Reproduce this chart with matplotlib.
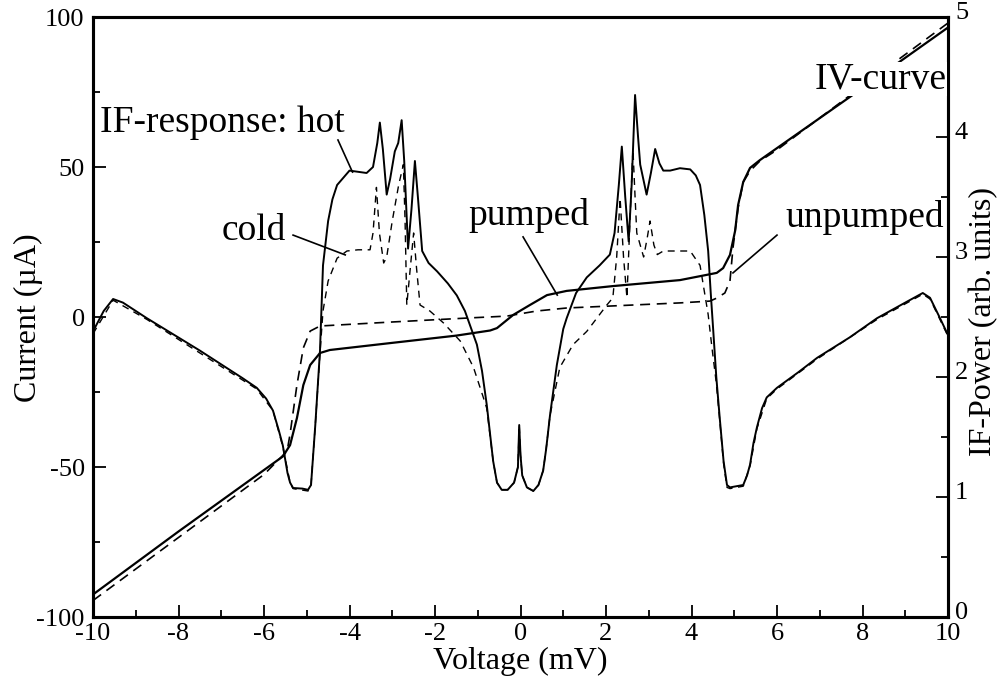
import matplotlib
matplotlib.use('Agg')
import matplotlib.pyplot as plt
import matplotlib.transforms as mtransforms
from matplotlib.ticker import MultipleLocator

# IV curves (left axis, current in uA)
v_pumped = [-10, -8, -6, -5.56, -5.39, -5.23, -5.08, -4.92, -4.69, -4.46, -3.05, -1.5, -0.71,
            -0.55, -0.17, 0.22, 0.62, 1.08, 2.16, 3.73, 4.59, 4.74, 4.9, 5.02, 5.09, 5.21,
            5.37, 5.6, 6.0, 8.0, 10]
i_pumped = [-92.5, -71.5, -51, -46.5, -42.7, -33.7, -22.7, -16, -12, -11, -8.7, -6.2, -4.5,
            -3.7, 0.7, 4, 7.3, 8.7, 10.3, 12.3, 14.7, 16.3, 20.7, 28.7, 37.3, 45,
            49.7, 52.3, 56.3, 76.3, 96.5]

v_unpumped = [-10, -8, -6, -5.46, -5.39, -5.23, -5.08, -4.92, -4.69, -3.05, -1.18, -0.32,
              0.38, 1.08, 3.73, 4.43, 4.59, 4.78, 4.9, 4.97, 5.09, 5.21, 5.37, 5.6, 6.0, 8.0, 10]
i_unpumped = [-94.5, -73.5, -52.5, -44.7, -39, -22.7, -10.3, -4.7, -3, -1.7, -0.3, 0.3,
              2, 3, 4.7, 5.3, 6.3, 8, 12, 23, 36.3, 45, 48.7, 52, 55.7, 77, 98]

# IF response (right axis, arb. units)
v_hot = [-10, -9.75, -9.53, -9.3, -8.74, -7.5, -6.5, -6.17, -5.95, -5.79, -5.65, -5.56, -5.45,
         -5.39, -5.32, -5.1, -4.97, -4.9, -4.8, -4.69, -4.62, -4.5, -4.4, -4.29, -4.0, -3.6,
         -3.45, -3.35, -3.29, -3.22, -3.13, -3.05, -2.94, -2.86, -2.78, -2.72, -2.63, -2.55,
         -2.47, -2.4, -2.3, -2.15, -1.95, -1.7, -1.49, -1.3, -1.18, -1.02, -0.9, -0.79, -0.64,
         -0.55, -0.44, -0.3, -0.15, -0.06, -0.03, 0.0, 0.04, 0.15, 0.3, 0.42, 0.53, 0.6, 0.69,
         0.85, 1.0, 1.08, 1.3, 1.55, 1.85, 2.09, 2.2, 2.3, 2.37, 2.45, 2.53, 2.6, 2.68, 2.75,
         2.8, 2.95, 3.05, 3.15, 3.25, 3.34, 3.5, 3.73, 3.97, 4.1, 4.2, 4.3, 4.39, 4.45, 4.51,
         4.58, 4.66, 4.75, 4.83, 4.9, 5.21, 5.3, 5.37, 5.45, 5.53, 5.65, 5.76, 6.0, 6.5, 6.94,
         7.7, 8.34, 9.0, 9.41, 9.58, 9.8, 10.0]
p_hot = [2.38, 2.55, 2.65, 2.62, 2.49, 2.22, 1.99, 1.91, 1.82, 1.72, 1.55, 1.43, 1.2,
         1.12, 1.075, 1.07, 1.06, 1.1, 1.6, 2.22, 2.93, 3.3, 3.48, 3.6, 3.72, 3.70,
         3.75, 3.95, 4.12, 3.9, 3.52, 3.65, 3.88, 3.95, 4.14, 3.8, 3.07, 3.4,
         3.8, 3.5, 3.05, 2.95, 2.88, 2.78, 2.68, 2.55, 2.43, 2.27, 2.05, 1.77, 1.3,
         1.12, 1.06, 1.06, 1.12, 1.25, 1.6, 1.35, 1.18, 1.08, 1.05, 1.1, 1.22, 1.4, 1.68,
         2.1, 2.4, 2.49, 2.7, 2.83, 2.93, 3.02, 3.2, 3.6, 3.92, 3.5, 3.13, 3.6, 4.35, 4.0,
         3.77, 3.52, 3.7, 3.9, 3.78, 3.72, 3.72, 3.74, 3.73, 3.68, 3.6, 3.35, 3.05, 2.7, 2.38,
         2.0, 1.66, 1.3, 1.1, 1.08, 1.1, 1.18, 1.27, 1.45, 1.58, 1.74, 1.83, 1.91, 2.04, 2.16,
         2.33, 2.49, 2.62, 2.7, 2.66, 2.5, 2.35]

v_cold = [-10, -9.53, -8.74, -6.17, -5.79, -5.56, -5.39, -5.32, -4.97, -4.9, -4.8, -4.69,
          -4.62, -4.5, -4.29, -4.06, -3.8, -3.52, -3.45, -3.37, -3.3, -3.2, -3.13, -3.0,
          -2.85, -2.74, -2.7, -2.66, -2.58, -2.5, -2.43, -2.35, -2.12, -1.8, -1.41, -1.1,
          -0.87, -0.79, -0.64, -0.55, -0.44, -0.3, -0.15, -0.06, -0.03, 0.0, 0.04, 0.15, 0.3,
          0.42, 0.53, 0.6, 0.69, 0.92, 1.23, 1.55, 1.7, 2.02, 2.16, 2.25, 2.33, 2.41, 2.49,
          2.56, 2.63, 2.68, 2.72, 2.88, 2.96, 3.03, 3.12, 3.2, 3.34, 3.73, 3.97, 4.2, 4.39,
          4.48, 4.58, 4.66, 4.75, 4.83, 4.9, 5.21, 5.37, 5.53, 5.76, 6.0, 6.94, 8.34, 9.41,
          9.58, 10.0]
p_cold = [2.36, 2.64, 2.48, 1.90, 1.72, 1.42, 1.12, 1.07, 1.05, 1.1, 1.6, 2.2,
          2.55, 2.8, 2.99, 3.05, 3.06, 3.06, 3.2, 3.58, 3.2, 2.95, 3.0, 3.3,
          3.6, 3.77, 3.3, 2.6, 2.9, 3.2, 2.9, 2.6, 2.55, 2.45, 2.3, 2.08,
          1.83, 1.74, 1.3, 1.12, 1.06, 1.06, 1.12, 1.25, 1.6, 1.35, 1.18, 1.08, 1.05,
          1.1, 1.22, 1.4, 1.68, 2.08, 2.27, 2.38, 2.45, 2.6, 2.66, 3.0, 3.49, 3.0, 2.66,
          3.3, 3.9, 3.5, 3.2, 3.0, 3.15, 3.3, 3.1, 3.02, 3.05, 3.05, 3.05, 2.93, 2.52,
          2.24, 1.95, 1.64, 1.28, 1.08, 1.07, 1.09, 1.26, 1.57, 1.82, 1.9, 2.15, 2.48, 2.69,
          2.65, 2.34]

plt.rcParams['font.family'] = ['Liberation Serif', 'DejaVu Serif']

fig = plt.figure(figsize=(10, 6.81), dpi=100, facecolor='white')
ax = fig.add_axes([0.093, (681 - 617) / 681, 0.855, 600 / 681])
ax2 = ax.twinx()

ax.plot(v_pumped, i_pumped, color='black', lw=1.6)
ax.plot(v_unpumped, i_unpumped, color='black', lw=1.2, dashes=(6, 4))
ax2.plot(v_hot, p_hot, color='black', lw=1.4)
ax2.plot(v_cold, p_cold, color='black', lw=1.0, dashes=(5, 4))

ax.set_xlim(-10, 10)
ax.set_ylim(-100, 100)
ax2.set_ylim(0, 5)

ax.xaxis.set_major_locator(MultipleLocator(2))
ax.xaxis.set_minor_locator(MultipleLocator(1))
ax.yaxis.set_major_locator(MultipleLocator(50))
ax.yaxis.set_minor_locator(MultipleLocator(25))
ax2.yaxis.set_major_locator(MultipleLocator(1))
ax2.yaxis.set_minor_locator(MultipleLocator(0.5))

for a in (ax, ax2):
    for s in a.spines.values():
        s.set_linewidth(2.2)
    a.tick_params(which='both', direction='in', width=1.3, labelsize=19)
    a.tick_params(which='major', length=9)
    a.tick_params(which='minor', length=5)
ax.tick_params(axis='x', which='both', top=False, pad=4)
ax.tick_params(axis='y', which='both', right=False, pad=6)
ax2.tick_params(axis='y', which='both', pad=5)

ax.set_xticklabels([f'{int(t)}' for t in ax.get_xticks()])
ax.set_yticklabels([f'{int(t)}' for t in ax.get_yticks()])

# right-hand labels sit a little high in the scan
shift_up = mtransforms.ScaledTranslation(0, 5 / 72, fig.dpi_scale_trans)
for lab in ax2.get_yticklabels():
    lab.set_transform(lab.get_transform() + shift_up)

ax.set_xlabel('Voltage (mV)', fontsize=23, labelpad=2)
fig.text(0.028, 1 - 318 / 681, 'Current (µA)', fontsize=23, rotation=90,
         ha='center', va='center')
fig.text(0.984, 1 - 322 / 681, 'IF-Power (arb. units)', fontsize=23, rotation=90,
         ha='center', va='center')

# annotations with leader lines (text placed on the top axes, in current/voltage coords)
fs = 27
ax2.text(-9.84, 61.7, 'IF-response: hot', fontsize=fs, va='baseline', ha='left',
         transform=ax.transData)
ax.plot([-4.27, -3.93], [59, 48.3], color='black', lw=1.2)
ax2.text(-6.98, 25.7, 'cold', fontsize=fs, va='baseline', ha='left', transform=ax.transData)
ax.plot([-5.32, -4.1], [27.3, 20.7], color='black', lw=1.2)
ax2.text(-1.23, 30.7, 'pumped', fontsize=fs, va='baseline', ha='left', transform=ax.transData)
ax.plot([0.06, 0.86], [26.7, 7.3], color='black', lw=1.2)
ax2.text(6.19, 30, 'unpumped', fontsize=fs, va='baseline', ha='left', transform=ax.transData)
ax.plot([6.0, 4.97], [27.3, 14.7], color='black', lw=1.2)
ax2.text(6.89, 76.3, 'IV-curve', fontsize=fs, va='baseline', ha='left', transform=ax.transData,
         bbox=dict(facecolor='white', edgecolor='none', pad=0.0), zorder=5)

fig.savefig('out.png', dpi=100)
